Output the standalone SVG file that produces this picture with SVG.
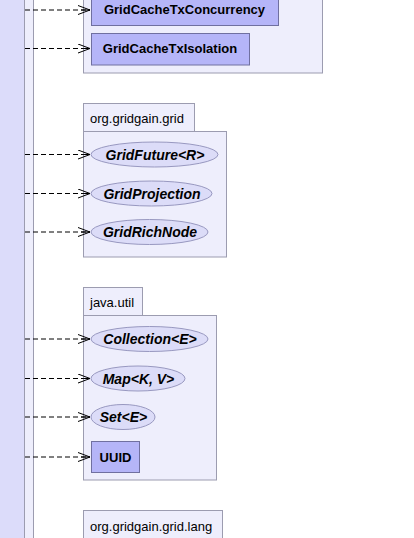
<svg xmlns="http://www.w3.org/2000/svg" width="414" height="538" viewBox="0 0 414 538">
<defs>
<style>
.pkg{fill:#eeeefc;stroke:#9c9cb0;stroke-width:1}
.cls{fill:#b5b5f8;stroke:#7070a0;stroke-width:1}
.ifc{fill:#dcdcf8;stroke:#9898c0;stroke-width:1}
.pl{font-family:"Liberation Sans",Arial,sans-serif;font-size:13px;fill:#000}
.cl{font-family:"Liberation Sans",Arial,sans-serif;font-size:13px;font-weight:bold;fill:#000;text-anchor:middle}
.il{font-family:"Liberation Sans",Arial,sans-serif;font-size:14px;font-weight:bold;font-style:italic;fill:#000;text-anchor:middle}
.dep{stroke:#000;stroke-width:1;stroke-dasharray:5,3;fill:none}
.ah{stroke:#000;stroke-width:1;fill:none}
</style>
<marker id="arr" markerWidth="14" markerHeight="10" refX="13" refY="5" orient="auto" markerUnits="userSpaceOnUse">
<path class="ah" d="M1,0.5 L13,5 L1,9.5 M4,5 L13,5"/>
</marker>
</defs>
<rect width="414" height="538" fill="#ffffff"/>
<g id="lifeline">
<rect x="-2" y="-2" width="26.5" height="542" fill="#dcdcfa" stroke="#9c9cb0"/>
<rect x="24.5" y="-2" width="9" height="542" fill="#eeeefc" stroke="#9c9cb0"/>
</g>
<g id="pkg-cache">
<rect class="pkg" x="83.5" y="-10" width="239" height="83"/>
</g>
<g id="GridCacheTxConcurrency">
<rect class="cls" x="91.5" y="-5" width="187" height="30.5"/>
<text class="cl" x="184.5" y="14">GridCacheTxConcurrency</text>
</g>
<g id="GridCacheTxIsolation">
<rect class="cls" x="91.5" y="33.5" width="158" height="31.5"/>
<text class="cl" x="170" y="52.5">GridCacheTxIsolation</text>
</g>
<g id="pkg-grid">
<rect class="pkg" x="83.5" y="103.5" width="111" height="28"/>
<text class="pl" x="90" y="122.5">org.gridgain.grid</text>
<rect class="pkg" x="83.5" y="131.5" width="143" height="125.5"/>
</g>
<g id="GridFuture">
<ellipse class="ifc" cx="154.5" cy="154.5" rx="63.5" ry="12.5"/>
<text class="il" x="155" y="159.5">GridFuture&lt;R&gt;</text>
</g>
<g id="GridProjection">
<ellipse class="ifc" cx="151.5" cy="193.5" rx="60.5" ry="12.5"/>
<text class="il" x="152" y="198.5">GridProjection</text>
</g>
<g id="GridRichNode">
<ellipse class="ifc" cx="149.5" cy="232" rx="58.5" ry="12.5"/>
<text class="il" x="150" y="237">GridRichNode</text>
</g>
<g id="pkg-util">
<rect class="pkg" x="83.5" y="287.5" width="59" height="28"/>
<text class="pl" x="90" y="306.5">java.util</text>
<rect class="pkg" x="83.5" y="315.5" width="133" height="164.5"/>
</g>
<g id="Collection">
<ellipse class="ifc" cx="149.5" cy="339" rx="58.5" ry="12.5"/>
<text class="il" x="150" y="344">Collection&lt;E&gt;</text>
</g>
<g id="Map">
<ellipse class="ifc" cx="138" cy="378.5" rx="47" ry="12.5"/>
<text class="il" x="138.5" y="383.5">Map&lt;K, V&gt;</text>
</g>
<g id="Set">
<ellipse class="ifc" cx="123" cy="417" rx="32" ry="12.5"/>
<text class="il" x="123.5" y="422">Set&lt;E&gt;</text>
</g>
<g id="UUID">
<rect class="cls" x="91.5" y="441.5" width="48" height="31"/>
<text class="cl" x="115.5" y="461.5">UUID</text>
</g>
<g id="pkg-lang">
<rect class="pkg" x="83.5" y="510.5" width="139" height="40"/>
<text class="pl" x="90" y="530.5">org.gridgain.grid.lang</text>
</g>
<g id="connectors">
<line class="dep" x1="25" y1="10" x2="90" y2="10" marker-end="url(#arr)"/>
<line class="dep" x1="25" y1="48.5" x2="90" y2="48.5" marker-end="url(#arr)"/>
<line class="dep" x1="25" y1="154.5" x2="90" y2="154.5" marker-end="url(#arr)"/>
<line class="dep" x1="25" y1="193.5" x2="90" y2="193.5" marker-end="url(#arr)"/>
<line class="dep" x1="25" y1="232" x2="90" y2="232" marker-end="url(#arr)"/>
<line class="dep" x1="25" y1="339" x2="90" y2="339" marker-end="url(#arr)"/>
<line class="dep" x1="25" y1="378.5" x2="90" y2="378.5" marker-end="url(#arr)"/>
<line class="dep" x1="25" y1="417" x2="90" y2="417" marker-end="url(#arr)"/>
<line class="dep" x1="25" y1="457" x2="90" y2="457" marker-end="url(#arr)"/>
</g>
</svg>
